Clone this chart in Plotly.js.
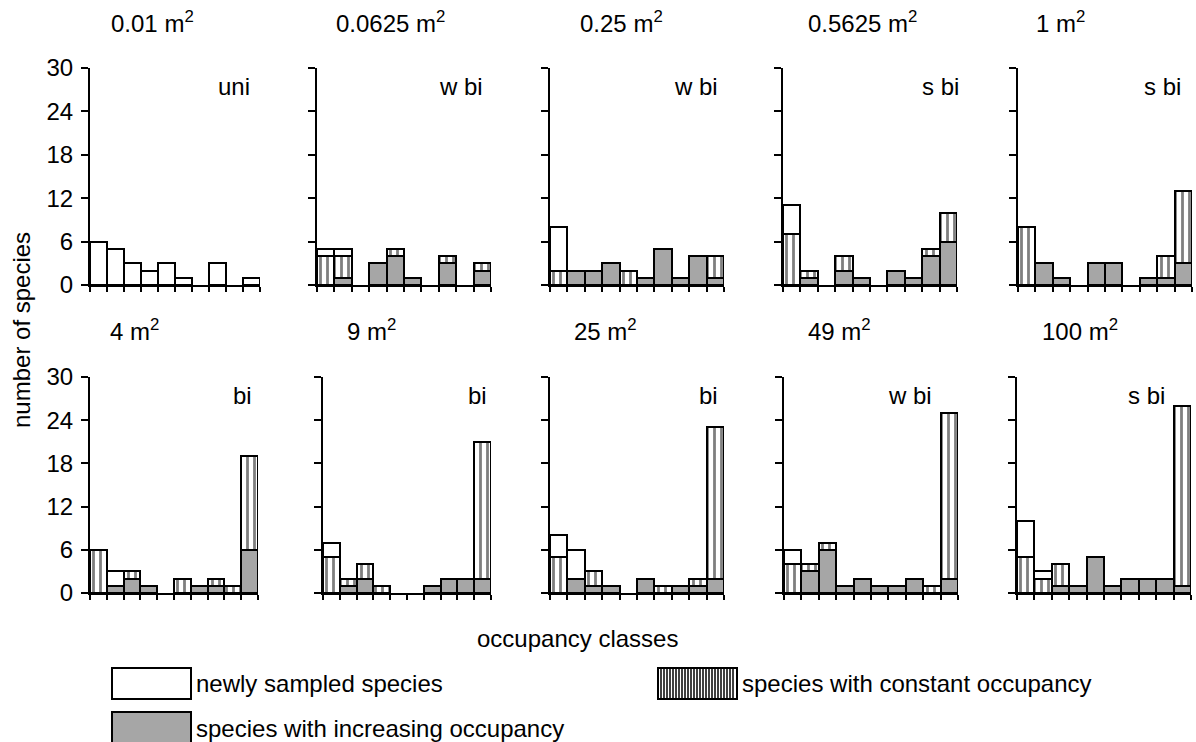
<!DOCTYPE html>
<html>
<head>
<meta charset="utf-8">
<script src="https://cdn.plot.ly/plotly-3.0.1.min.js"></script>
<style>html,body{margin:0;padding:0;background:#fff;}#chart{width:1196px;height:742px;}</style>
</head>
<body>
<div id="chart"></div>
<script>
// ---- data ----
const occupancyClasses = [1,2,3,4,5,6,7,8,9,10];
const panelTitles = ['0.01 m<sup>2</sup>','0.0625 m<sup>2</sup>','0.25 m<sup>2</sup>','0.5625 m<sup>2</sup>','1 m<sup>2</sup>',
                     '4 m<sup>2</sup>','9 m<sup>2</sup>','25 m<sup>2</sup>','49 m<sup>2</sup>','100 m<sup>2</sup>'];
const shapeLabels = ['uni','w bi','w bi','s bi','s bi','bi','bi','bi','w bi','s bi'];
const yTickVals = [0,6,12,18,24,30];

const increasing = [
  [0,0,0,0,0,0,0,0,0,0],
  [0,1,0,3,4,1,0,3,0,2],
  [0,2,2,3,0,1,5,1,4,1],
  [0,1,0,2,1,0,2,1,4,6],
  [0,3,1,0,3,3,0,1,1,3],
  [0,1,2,1,0,0,1,1,0,6],
  [0,1,2,0,0,0,1,2,2,2],
  [0,2,1,1,0,2,0,1,1,2],
  [0,3,6,1,2,1,1,2,0,2],
  [0,0,1,1,5,1,2,2,2,1]
];
const constant = [
  [0,0,0,0,0,0,0,0,0,0],
  [4,3,0,0,1,0,0,1,0,1],
  [2,0,0,0,2,0,0,0,0,3],
  [7,1,0,2,0,0,0,0,1,4],
  [8,0,0,0,0,0,0,0,3,10],
  [6,0,1,0,0,2,0,1,1,13],
  [5,1,2,1,0,0,0,0,0,19],
  [5,0,2,0,0,0,1,0,1,21],
  [4,1,1,0,0,0,0,0,1,23],
  [5,2,3,0,0,0,0,0,0,25]
];
const newlySampled = [
  [6,5,3,2,3,1,0,3,0,1],
  [1,1,0,0,0,0,0,0,0,0],
  [6,0,0,0,0,0,0,0,0,0],
  [4,0,0,0,0,0,0,0,0,0],
  [0,0,0,0,0,0,0,0,0,0],
  [0,2,0,0,0,0,0,0,0,0],
  [2,0,0,0,0,0,0,0,0,0],
  [3,4,0,0,0,0,0,0,0,0],
  [2,0,0,0,0,0,0,0,0,0],
  [5,1,0,0,0,0,0,0,0,0]
];
const legendLabels = ['newly sampled species','species with constant occupancy','species with increasing occupancy'];

// ---- layout geometry (pixels) ----
const W = 1196, H = 742;
const FONT = '"Liberation Sans", Arial, Helvetica, sans-serif';
const FS = 24;
const GRAY = '#a6a6a6';
const colLeft = [[90,317,550,783,1018],[90,323,550,784,1017]];
const colWidth = [[170,174,174,174,174],[168,168,174,174,174]];
const rowTop = [68,377], rowBottom = [285,593];
const titlePos = [[152,390,621,862,1060],[134,371,605,839,1080]];
const titleY = [22,330];
const labelPos = [[234,461,696,940,1162],[242,477,708,910,1146]];
const labelY = [86,395];

const px = x => x / W;
const py = y => 1 - y / H;
const nz = arr => arr.map(v => v === 0 ? null : v);

const traces = [];
const layout = {
  width: W, height: H,
  margin: {l:0, r:0, t:0, b:0},
  paper_bgcolor: '#fff', plot_bgcolor: 'rgba(0,0,0,0)',
  barmode: 'stack', bargap: 0,
  showlegend: false,
  font: {family: FONT, size: FS, color: '#000'},
  annotations: [], shapes: []
};

for (let p = 0; p < 10; p++) {
  const row = Math.floor(p / 5), col = p % 5;
  const sfx = p === 0 ? '' : String(p + 1);
  const xa = 'x' + sfx, ya = 'y' + sfx;
  const common = {x: occupancyClasses, xaxis: xa, yaxis: ya, type: 'bar', hoverinfo: 'y', width: 1};
  traces.push(Object.assign({}, common, {
    y: nz(increasing[p]), name: legendLabels[2],
    marker: {color: GRAY, line: {color: '#000', width: 2}}
  }));
  traces.push(Object.assign({}, common, {
    y: nz(constant[p]), name: legendLabels[1],
    marker: {color: '#fff', line: {color: '#000', width: 2},
             pattern: {shape: '|', fgcolor: '#000', bgcolor: '#fff', size: 7, solidity: 0.4, fillmode: 'overlay'}}
  }));
  traces.push(Object.assign({}, common, {
    y: nz(newlySampled[p]), name: legendLabels[0],
    marker: {color: '#fff', line: {color: '#000', width: 2}}
  }));

  const x0 = colLeft[row][col], x1 = x0 + colWidth[row][col];
  layout['xaxis' + sfx] = {
    domain: [px(x0), px(x1)], anchor: ya, range: [0.5, 10.5],
    showgrid: false, zeroline: false, showline: true, linecolor: '#000', linewidth: 2,
    ticks: 'outside', tickvals: occupancyClasses.map(v => v - 0.5).concat([10.5]),
    ticklen: 5, tickwidth: 2, tickcolor: '#000', showticklabels: false, fixedrange: true
  };
  layout['yaxis' + sfx] = {
    domain: [py(rowBottom[row]), py(rowTop[row])], anchor: xa, range: [0, 30],
    showgrid: false, zeroline: false, showline: true, linecolor: '#000', linewidth: 2,
    ticks: 'outside', tickvals: yTickVals, ticklen: 7, tickwidth: 2, tickcolor: '#000',
    showticklabels: col === 0, ticklabelstandoff: 3,
    tickfont: {family: FONT, size: FS, color: '#000'}, fixedrange: true
  };
  layout.annotations.push({
    xref: 'paper', yref: 'paper', x: px(titlePos[row][col]), y: py(titleY[row]),
    text: panelTitles[p], showarrow: false, xanchor: 'center', yanchor: 'middle',
    font: {family: FONT, size: FS, color: '#000'}
  });
  layout.annotations.push({
    xref: 'paper', yref: 'paper', x: px(labelPos[row][col]), y: py(labelY[row]),
    text: shapeLabels[p], showarrow: false, xanchor: 'center', yanchor: 'middle',
    font: {family: FONT, size: FS, color: '#000'}
  });
}

// axis titles
layout.annotations.push({
  xref: 'paper', yref: 'paper', x: px(21), y: py(330), text: 'number of species',
  textangle: -90, showarrow: false, xanchor: 'center', yanchor: 'middle',
  font: {family: FONT, size: FS, color: '#000'}
});
layout.annotations.push({
  xref: 'paper', yref: 'paper', x: px(577), y: py(638), text: 'occupancy classes',
  showarrow: false, xanchor: 'center', yanchor: 'middle',
  font: {family: FONT, size: FS, color: '#000'}
});

// legend (drawn as boxes + text)
const legendBoxes = [
  {x0: 112, x1: 191, y0: 668, y1: 699, fill: '#fff', stripes: false, label: legendLabels[0]},
  {x0: 658, x1: 737, y0: 668, y1: 699, fill: '#fff', stripes: true, label: legendLabels[1]},
  {x0: 112, x1: 191, y0: 712, y1: 744, fill: GRAY, stripes: false, label: legendLabels[2]}
];
legendBoxes.forEach(b => {
  layout.shapes.push({type: 'rect', xref: 'paper', yref: 'paper',
    x0: px(b.x0), x1: px(b.x1), y0: py(b.y1), y1: py(b.y0),
    fillcolor: b.fill, line: {color: '#000', width: 2}});
  if (b.stripes) {
    for (let sx = b.x0 + 3; sx < b.x1 - 1; sx += 3) {
      layout.shapes.push({type: 'line', xref: 'paper', yref: 'paper',
        x0: px(sx), x1: px(sx), y0: py(b.y1), y1: py(b.y0),
        line: {color: '#000', width: 1.5}});
    }
  }
  layout.annotations.push({xref: 'paper', yref: 'paper', x: px(b.x1 + 3), y: py((b.y0 + b.y1) / 2),
    text: b.label, showarrow: false, xanchor: 'left', yanchor: 'middle',
    font: {family: FONT, size: FS, color: '#000'}});
});

Plotly.newPlot('chart', traces, layout, {staticPlot: true, displayModeBar: false});
</script>
</body>
</html>
